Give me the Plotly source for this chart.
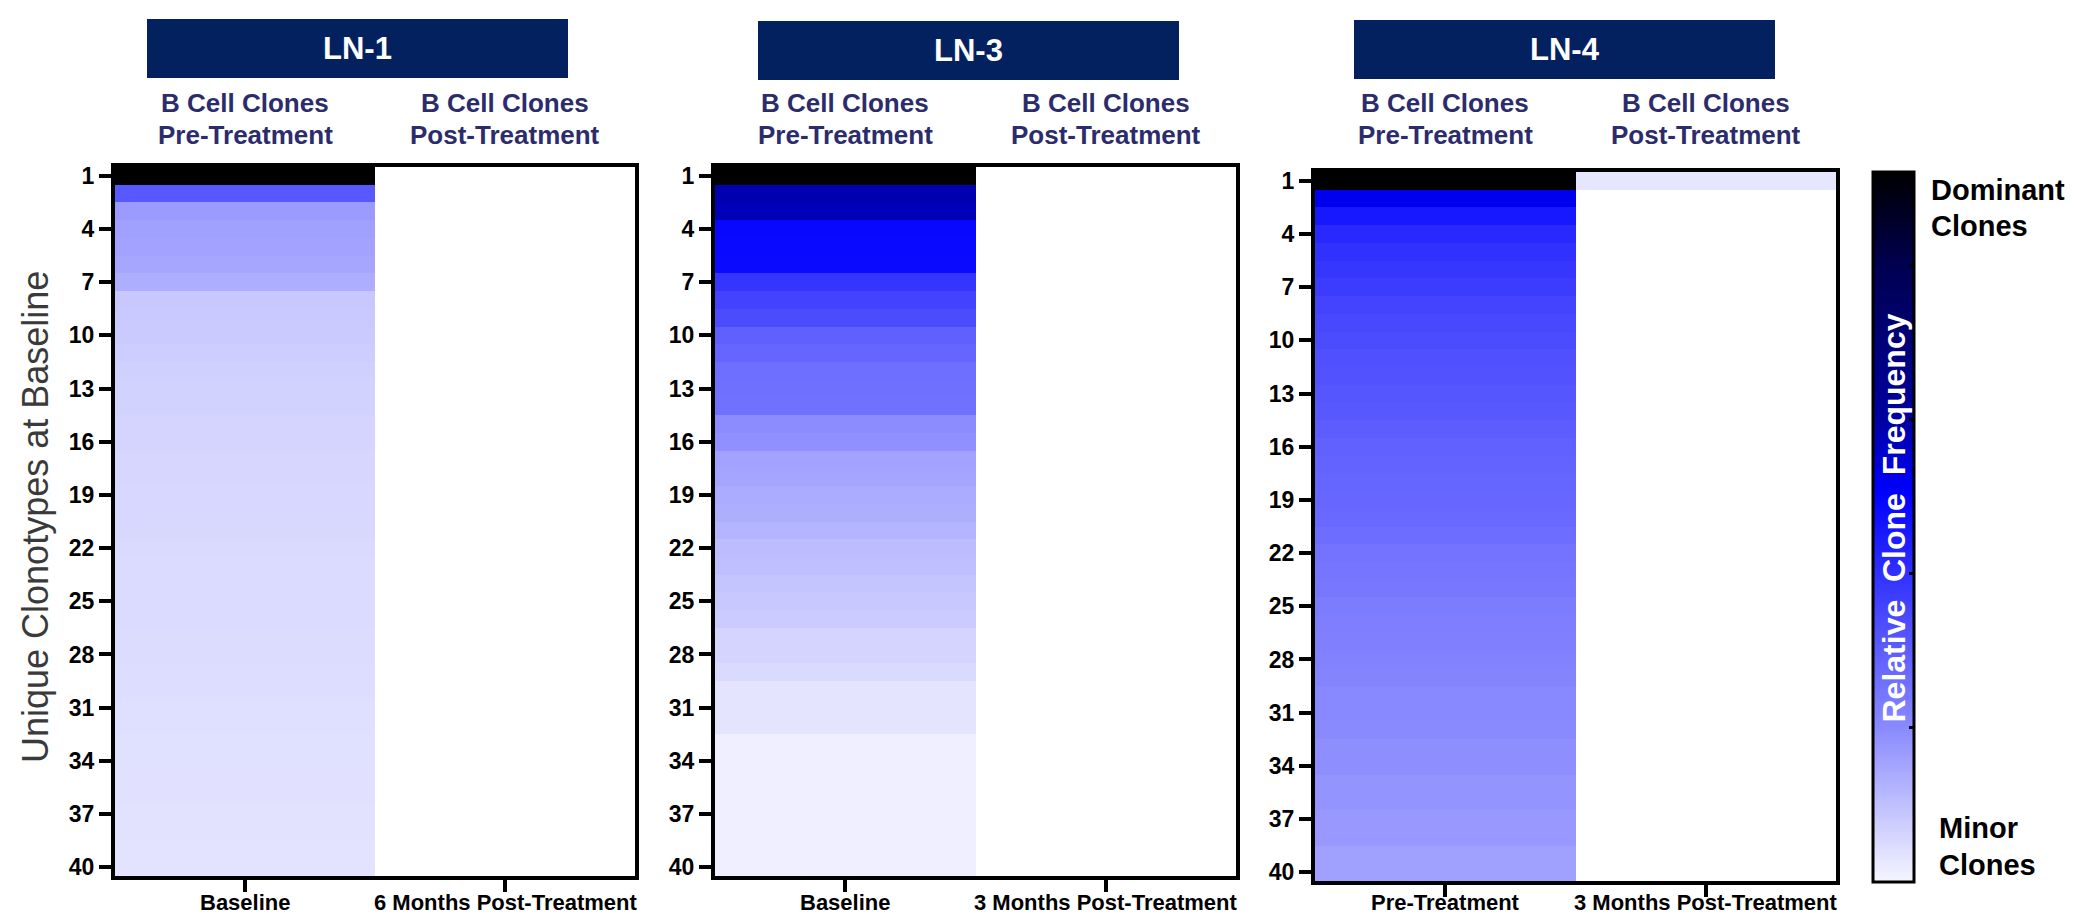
import plotly.graph_objects as go

# ---------------- data ----------------
rows = list(range(1, 41))
ytick_vals = [1, 4, 7, 10, 13, 16, 19, 22, 25, 28, 31, 34, 37, 40]

panels = ["LN-1", "LN-3", "LN-4"]
col_head_top = ["B Cell Clones", "B Cell Clones"]
col_head_bottom = ["Pre-Treatment", "Post-Treatment"]
xlabels = [
    ["Baseline", "6 Months Post-Treatment"],
    ["Baseline", "3 Months Post-Treatment"],
    ["Pre-Treatment", "3 Months Post-Treatment"],
]

ln1_pre = [1.0, 0.337, 0.183, 0.172, 0.166, 0.160, 0.144, 0.091, 0.089, 0.087,
           0.081, 0.075, 0.071, 0.070, 0.067, 0.066, 0.063, 0.062, 0.061, 0.060,
           0.059, 0.054, 0.053, 0.053, 0.052, 0.052, 0.051, 0.050, 0.049, 0.048,
           0.045, 0.044, 0.043, 0.042, 0.041, 0.040, 0.039, 0.038, 0.037, 0.036]
ln1_post = [None] * 40

ln3_pre = [1.0, 0.634, 0.625, 0.530, 0.528, 0.525, 0.422, 0.390, 0.367, 0.318,
           0.306, 0.283, 0.280, 0.278, 0.213, 0.205, 0.168, 0.162, 0.150, 0.144,
           0.132, 0.116, 0.110, 0.100, 0.091, 0.085, 0.067, 0.066, 0.055, 0.035,
           0.035, 0.034, 0.012, 0.012, 0.012, 0.012, 0.012, 0.012, 0.012, 0.012]
ln3_post = [None] * 40

ln4_pre = [1.0, 0.568, 0.492, 0.453, 0.434, 0.419, 0.405, 0.386, 0.376, 0.367,
           0.357, 0.352, 0.343, 0.337, 0.328, 0.315, 0.310, 0.306, 0.301, 0.296,
           0.287, 0.272, 0.268, 0.264, 0.251, 0.247, 0.240, 0.236, 0.231, 0.221,
           0.221, 0.217, 0.209, 0.209, 0.197, 0.197, 0.189, 0.189, 0.172, 0.172]
ln4_post = [0.030] + [None] * 39

series = [(ln1_pre, ln1_post), (ln3_pre, ln3_post), (ln4_pre, ln4_post)]

colorbar_ticks = [0.217, 0.434, 0.651, 0.868]

# ---------------- style ----------------
W, H = 2074, 914
ARIAL = "'Liberation Sans', Arial, sans-serif"
NAVY = "#03215F"
HEAD = "#2C2C6C"

colorscale = [
    [0.0, "#F5F5FF"],
    [0.217, "#8A8AFF"],
    [0.434, "#3030FF"],
    [0.55, "#0000FF"],
    [0.651, "#0000A0"],
    [0.868, "#000050"],
    [1.0, "#000000"],
]

# pixel geometry of panels: (left, right, top, bottom)
geom = [(107, 627, 159, 868), (707, 1228, 159, 868), (1307, 1828, 164, 873)]
title_boxes = [(139, 560, 11, 70), (750, 1171, 13, 72), (1346, 1767, 12, 71)]
xlabel_y = [894, 894, 894]
CB_L, CB_R, CB_T, CB_B = 1865, 1906, 164, 874


def px(x):
    return x / W


def py(y):
    return 1 - y / H


fig = go.Figure()
layout = dict(
    template="none",
    width=W, height=H, autosize=False,
    margin=dict(l=0, r=0, t=0, b=0, pad=0),
    paper_bgcolor="white", plot_bgcolor="white",
    showlegend=False,
    font=dict(family=ARIAL, color="black"),
)

annotations = []
shapes = []

for i, (pre, post) in enumerate(series):
    n = i + 1
    xa = "x" if n == 1 else f"x{n}"
    ya = "y" if n == 1 else f"y{n}"
    z = [[pre[r], post[r]] for r in range(40)]
    hm = go.Heatmap(
        z=z, x=[0, 1], y=rows, xaxis=xa, yaxis=ya,
        colorscale=colorscale, zmin=0, zmax=1,
        showscale=(n == 3), hoverongaps=False,
    )
    if n == 3:
        hm.colorbar = dict(
            x=px(CB_L), xanchor="left", xpad=0,
            y=py(CB_T), yanchor="top", ypad=0,
            len=(CB_B - CB_T) / H, lenmode="fraction",
            thickness=CB_R - CB_L, thicknessmode="pixels",
            outlinewidth=3, outlinecolor="black",
            tickvals=colorbar_ticks, ticks="inside", ticklen=6,
            tickwidth=3, tickcolor="black", showticklabels=False,
        )
    fig.add_trace(hm)

    l, r, t, b = geom[i]
    layout[f"xaxis{'' if n == 1 else n}"] = dict(
        domain=[px(l), px(r)], anchor=ya, range=[-0.5, 1.5],
        tickvals=[0, 1], showticklabels=False,
        ticks="outside", ticklen=12, tickwidth=4, tickcolor="black",
        showline=True, linewidth=4, linecolor="black", mirror=True,
        showgrid=False, zeroline=False, fixedrange=True, automargin=False,
    )
    layout[f"yaxis{'' if n == 1 else n}"] = dict(
        domain=[py(b), py(t)], anchor=xa, range=[40.5, 0.5],
        tickvals=ytick_vals, tickangle=0,
        ticks="outside", ticklen=12, tickwidth=4, tickcolor="black",
        tickfont=dict(family=ARIAL, size=23, color="black", weight="bold"),
        showline=True, linewidth=4, linecolor="black", mirror=True,
        showgrid=False, zeroline=False, fixedrange=True, automargin=False,
    )

    # x category labels
    for c in range(2):
        annotations.append(dict(
            text=xlabels[i][c], xref=xa, yref="paper",
            x=c, y=py(xlabel_y[i]), xanchor="center", yanchor="middle",
            showarrow=False,
            font=dict(family=ARIAL, size=22, color="black", weight="bold"),
        ))

    # title box
    bl, br, bt, bb = title_boxes[i]
    shapes.append(dict(type="rect", xref="paper", yref="paper",
                       x0=px(bl), x1=px(br), y0=py(bb), y1=py(bt),
                       fillcolor=NAVY, line=dict(width=0), layer="above"))
    annotations.append(dict(
        text=panels[i], xref="paper", yref="paper",
        x=px((bl + br) / 2), y=py((bt + bb) / 2),
        xanchor="center", yanchor="middle", showarrow=False,
        font=dict(family=ARIAL, size=31, color="white", weight="bold"),
    ))
    # column headers (two lines)
    for c in range(2):
        for txt, yy in ((col_head_top[c], 95), (col_head_bottom[c], 127)):
            annotations.append(dict(
                text=txt, xref=xa, yref="paper",
                x=c, y=py(yy), xanchor="center", yanchor="middle",
                showarrow=False,
                font=dict(family=ARIAL, size=26, color=HEAD, weight="bold"),
            ))

# y axis title
annotations.append(dict(
    text="Unique Clonotypes at Baseline", xref="paper", yref="paper",
    x=px(27), y=py(509), xanchor="center", yanchor="middle",
    textangle=-90, showarrow=False,
    font=dict(family=ARIAL, size=36, color="#3A3A3A"),
))

# colorbar texts
annotations.append(dict(
    text="Relative  Clone  Frequency", xref="paper", yref="paper",
    x=px((CB_L + CB_R) / 2), y=py(510), xanchor="center", yanchor="middle",
    textangle=-90, showarrow=False,
    font=dict(family=ARIAL, size=32, color="white", weight="bold"),
))
for txt, xx, yy in (("Dominant", 1921, 182), ("Clones", 1921, 218),
                    ("Minor", 1929, 820), ("Clones", 1929, 857)):
    annotations.append(dict(
        text=txt, xref="paper", yref="paper",
        x=px(xx), y=py(yy), xanchor="left", yanchor="middle",
        showarrow=False,
        font=dict(family=ARIAL, size=29, color="black", weight="bold"),
    ))

# colorbar tick dashes on the left side of the bar
for v in colorbar_ticks:
    yy = CB_B - v * (CB_B - CB_T)
    shapes.append(dict(type="line", xref="paper", yref="paper",
                       x0=px(CB_L), x1=px(CB_L + 6), y0=py(yy), y1=py(yy),
                       line=dict(color="black", width=3)))

layout["annotations"] = annotations
layout["shapes"] = shapes
fig.update_layout(**layout)

fig.write_html("out.html")
